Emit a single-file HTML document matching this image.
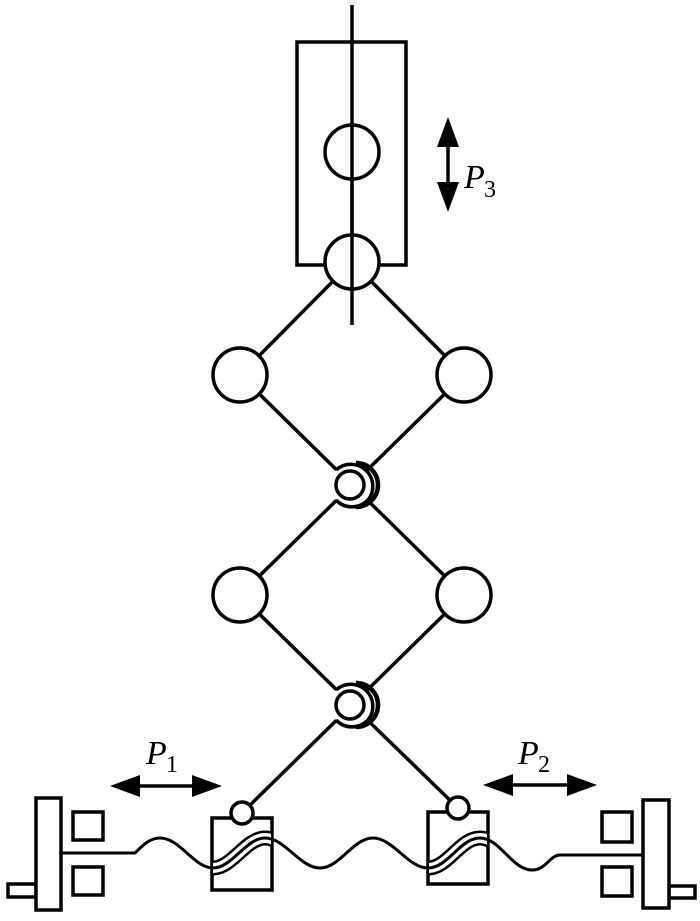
<!DOCTYPE html>
<html><head><style>body{margin:0;background:#fff}svg{display:block}</style></head>
<body>
<svg width="700" height="921" viewBox="0 0 700 921" xmlns="http://www.w3.org/2000/svg">
<defs>
<clipPath id="cl"><rect x="213" y="819" width="58" height="70"/></clipPath>
<clipPath id="cr"><rect x="429" y="813" width="58" height="70"/></clipPath>
</defs>
<g fill="none" stroke="#000" stroke-width="3.5">
<rect x="297" y="42" width="109" height="223" fill="#fff"/>
<polyline points="352,262 240,375 352,485 464,375 352,262"/>
<polyline points="352,485 240,595 352,705 464,595 352,485"/>
<line x1="352" y1="705" x2="242" y2="813"/>
<line x1="352" y1="705" x2="458" y2="808"/>
<line x1="352" y1="5" x2="352" y2="325"/>
<circle cx="352" cy="152" r="27" fill="#fff"/>
<circle cx="352" cy="262" r="27" fill="#fff"/>
<line x1="352" y1="125" x2="352" y2="289"/>
<circle cx="240" cy="375" r="27" fill="#fff"/>
<circle cx="464" cy="375" r="27" fill="#fff"/>
<circle cx="240" cy="595" r="27" fill="#fff"/>
<circle cx="464" cy="595" r="27" fill="#fff"/>
<circle cx="352" cy="485" r="22" fill="#fff" stroke="none"/>
<path d="M336 470 A22 22 0 0 1 368 500"/>
<path d="M336 500 A22 22 0 0 0 368 500"/>
<path d="M356 463 A22 22 0 0 1 356 507" stroke-width="4.5"/>
<circle cx="350" cy="485" r="14"/>
<circle cx="352" cy="705" r="22" fill="#fff" stroke="none"/>
<path d="M336 690 A22 22 0 0 1 368 720"/>
<path d="M336 720 A22 22 0 0 0 368 720"/>
<path d="M356 683 A22 22 0 0 1 356 727" stroke-width="4.5"/>
<circle cx="350" cy="705" r="14"/>
<rect x="212" y="818" width="60" height="72" fill="#fff"/>
<rect x="428" y="812" width="60" height="72" fill="#fff"/>
<circle cx="242" cy="813" r="11" fill="#fff"/>
<circle cx="458" cy="808" r="11" fill="#fff"/>
</g>
<g fill="none" stroke-linejoin="round">
<path d="M62 853 L135 853 C143 845 150 838 160 838 C180 838 194 868 213 868 C232 868 246 838 265 838 C285 838 300 868 320 868 C340 868 353 838 373 838 C393 838 408 868 428 868 C448 868 460 838 480 838 C500 838 512 870 532 870 C546 870 550 855 560 855 L643 855" stroke="#000" stroke-width="3"/>
<g clip-path="url(#cl)">
<path d="M160 838 C180 838 194 868 213 868 C232 868 246 838 265 838 C285 838 300 868 320 868" stroke="#000" stroke-width="15"/>
<path d="M160 838 C180 838 194 868 213 868 C232 868 246 838 265 838 C285 838 300 868 320 868" stroke="#fff" stroke-width="10"/>
<path d="M160 838 C180 838 194 868 213 868 C232 868 246 838 265 838 C285 838 300 868 320 868" stroke="#000" stroke-width="3"/>
</g>
<g clip-path="url(#cr)">
<path d="M373 838 C393 838 408 868 428 868 C448 868 460 838 480 838 C500 838 512 870 532 870" stroke="#000" stroke-width="15"/>
<path d="M373 838 C393 838 408 868 428 868 C448 868 460 838 480 838 C500 838 512 870 532 870" stroke="#fff" stroke-width="10"/>
<path d="M373 838 C393 838 408 868 428 868 C448 868 460 838 480 838 C500 838 512 870 532 870" stroke="#000" stroke-width="3"/>
</g>
</g>
<g fill="#fff" stroke="#000" stroke-width="3.5">
<rect x="8" y="884" width="28" height="13"/>
<rect x="36" y="798" width="25" height="112"/>
<rect x="73" y="812" width="30" height="28"/>
<rect x="73" y="867" width="30" height="28"/>
<rect x="669" y="886" width="26" height="12"/>
<rect x="643" y="800" width="26" height="108"/>
<rect x="602" y="812" width="30" height="30"/>
<rect x="602" y="867" width="30" height="29"/>
</g>
<g stroke="#000" stroke-width="3.5">
<line x1="125" y1="786" x2="208" y2="786"/>
<line x1="497" y1="785" x2="583" y2="785"/>
<line x1="448" y1="132" x2="448" y2="198"/>
</g>
<g fill="#000">
<polygon points="110,786 140,775 140,797"/>
<polygon points="222,786 192,775 192,797"/>
<polygon points="483,785 513,774 513,796"/>
<polygon points="597,785 567,774 567,796"/>
<polygon points="448,117 437,147 459,147"/>
<polygon points="448,212 437,182 459,182"/>
</g>
<g font-family="Liberation Serif, serif" fill="#000">
<text x="146" y="764" font-size="34" font-style="italic">P</text><text x="166" y="772" font-size="24">1</text>
<text x="518" y="764" font-size="34" font-style="italic">P</text><text x="538" y="772" font-size="24">2</text>
<text x="464" y="188" font-size="34" font-style="italic">P</text><text x="484" y="197" font-size="24">3</text>
</g>
</svg>
</body></html>
